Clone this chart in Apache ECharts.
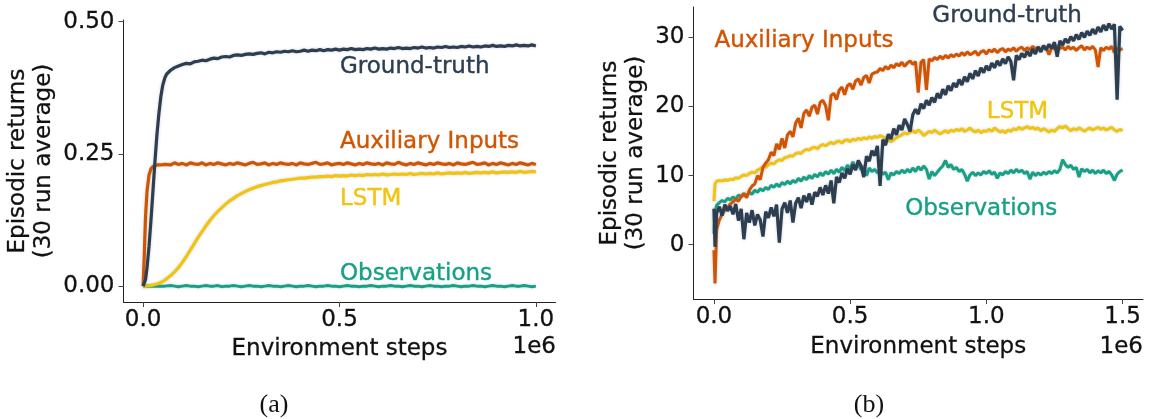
<!DOCTYPE html>
<html>
<head>
<meta charset="utf-8">
<script src="https://cdn.jsdelivr.net/npm/echarts@6/dist/echarts.min.js"></script>
<style>
  html, body { margin: 0; padding: 0; background: #ffffff; }
  #chart { width: 1149px; height: 419px; }
</style>
</head>
<body>
<div id="chart"></div>
<script>
// ---- legend names / colours (shared by both panels) ----
const seriesNames = ['Ground-truth', 'Auxiliary Inputs', 'LSTM', 'Observations'];
const seriesColors = ['#2c3e50', '#d35400', '#f1c40f', '#16a085'];

// ---- panel (a): environment steps (millions) ----
const stepsA = [0, 0.003, 0.006, 0.01, 0.015, 0.02, 0.025, 0.03, 0.035, 0.04, 0.045, 0.05, 0.055, 0.06,
  0.07, 0.08, 0.09, 0.10, 0.11, 0.12, 0.13, 0.14, 0.15, 0.16,
  0.17, 0.18, 0.19, 0.20, 0.21, 0.22, 0.23, 0.24, 0.25, 0.26,
  0.27, 0.28, 0.29, 0.30, 0.31, 0.32, 0.33, 0.34, 0.35, 0.36,
  0.37, 0.38, 0.39, 0.40, 0.41, 0.42, 0.43, 0.44, 0.45, 0.46,
  0.47, 0.48, 0.49, 0.50, 0.51, 0.52, 0.53, 0.54, 0.55, 0.56,
  0.57, 0.58, 0.59, 0.60, 0.61, 0.62, 0.63, 0.64, 0.65, 0.66,
  0.67, 0.68, 0.69, 0.70, 0.71, 0.72, 0.73, 0.74, 0.75, 0.76,
  0.77, 0.78, 0.79, 0.80, 0.81, 0.82, 0.83, 0.84, 0.85, 0.86,
  0.87, 0.88, 0.89, 0.90, 0.91, 0.92, 0.93, 0.94, 0.95, 0.96,
  0.97, 0.98, 0.99, 1.00];

const groundTruthA = [0, 0.003, 0.012, 0.035, 0.075, 0.125, 0.18, 0.235, 0.285, 0.325, 0.358, 0.38, 0.393, 0.401,
  0.408, 0.413, 0.416, 0.419, 0.421, 0.420, 0.424, 0.425, 0.427, 0.426,
  0.429, 0.431, 0.430, 0.433, 0.434, 0.433, 0.436, 0.437, 0.436, 0.438,
  0.439, 0.438, 0.440, 0.441, 0.439, 0.442, 0.441, 0.443, 0.442, 0.444,
  0.443, 0.445, 0.443, 0.444, 0.446, 0.444, 0.446, 0.445, 0.447, 0.445,
  0.447, 0.446, 0.448, 0.446, 0.448, 0.447, 0.449, 0.447, 0.448, 0.447,
  0.449, 0.448, 0.450, 0.448, 0.449, 0.448, 0.450, 0.449, 0.451, 0.449,
  0.450, 0.449, 0.451, 0.450, 0.452, 0.450, 0.451, 0.450, 0.452, 0.451,
  0.453, 0.451, 0.452, 0.451, 0.453, 0.452, 0.454, 0.452, 0.453, 0.452,
  0.454, 0.453, 0.455, 0.453, 0.454, 0.453, 0.455, 0.454, 0.456, 0.454,
  0.455, 0.454, 0.456, 0.454];

const auxiliaryA = [0, 0.06, 0.13, 0.18, 0.21, 0.222, 0.226, 0.228, 0.229, 0.231, 0.229, 0.232, 0.230, 0.231,
  0.229, 0.233, 0.230, 0.232, 0.229, 0.233, 0.231, 0.230, 0.233, 0.229,
  0.232, 0.230, 0.233, 0.231, 0.229, 0.232, 0.230, 0.233, 0.231, 0.229,
  0.232, 0.234, 0.230, 0.231, 0.233, 0.229, 0.232, 0.230, 0.233, 0.231,
  0.230, 0.232, 0.229, 0.233, 0.231, 0.230, 0.232, 0.234, 0.230, 0.231,
  0.233, 0.229, 0.231, 0.232, 0.230, 0.233, 0.231, 0.229, 0.232, 0.230,
  0.233, 0.231, 0.230, 0.232, 0.229, 0.233, 0.231, 0.230, 0.234, 0.231,
  0.229, 0.232, 0.230, 0.233, 0.231, 0.229, 0.232, 0.230, 0.233, 0.231,
  0.230, 0.232, 0.229, 0.233, 0.231, 0.230, 0.232, 0.234, 0.230, 0.231,
  0.233, 0.229, 0.232, 0.230, 0.233, 0.231, 0.229, 0.232, 0.230, 0.233,
  0.231, 0.229, 0.232, 0.230];

const lstmA = [0, 0, 0, 0.001, 0.001, 0.002, 0.002, 0.003, 0.004, 0.005, 0.007, 0.009, 0.011, 0.014,
  0.020, 0.027, 0.035, 0.045, 0.056, 0.068, 0.080, 0.092, 0.103, 0.114,
  0.124, 0.133, 0.141, 0.148, 0.155, 0.161, 0.166, 0.171, 0.175, 0.179,
  0.182, 0.185, 0.188, 0.190, 0.192, 0.194, 0.196, 0.197, 0.199, 0.200,
  0.201, 0.202, 0.203, 0.204, 0.204, 0.205, 0.206, 0.206, 0.207, 0.207,
  0.208, 0.207, 0.209, 0.208, 0.209, 0.208, 0.210, 0.209, 0.210, 0.209,
  0.211, 0.210, 0.211, 0.210, 0.212, 0.210, 0.211, 0.212, 0.211, 0.212,
  0.211, 0.213, 0.211, 0.212, 0.213, 0.212, 0.213, 0.212, 0.214, 0.212,
  0.213, 0.214, 0.213, 0.214, 0.213, 0.215, 0.213, 0.214, 0.215, 0.214,
  0.215, 0.214, 0.216, 0.214, 0.215, 0.216, 0.215, 0.216, 0.215, 0.217,
  0.215, 0.216, 0.217, 0.216];

const observationsA = [0, 0, 0, 0, 0, 0, 0, 0, 0, 0, 0, 0, 0, 0,
  0.001, 0, -0.001, 0, 0.001, 0, 0, -0.001, 0, 0.001,
  0, 0, 0.001, -0.001, 0, 0, 0.001, 0, -0.001, 0,
  0.001, 0, 0, -0.001, 0, 0.001, 0, 0, -0.001, 0,
  0.001, 0, -0.001, 0, 0, 0.001, 0, -0.001, 0, 0,
  0.001, 0, 0, -0.001, 0, 0.001, 0, 0, -0.001, 0,
  0, 0.001, 0, -0.001, 0, 0, 0.001, 0, 0, -0.001,
  0, 0.001, 0, 0, -0.001, 0, 0.001, 0, 0, -0.001,
  0, 0, 0.001, 0, -0.001, 0, 0, 0.001, 0, 0,
  -0.001, 0, 0.001, 0, 0, -0.001, 0, 0.001, 0, 0,
  0.001, 0, -0.001, 0];

// ---- panel (b): environment steps (millions) ----
const stepsB = [0, 0.004, 0.01, 0.02, 0.03, 0.04, 0.05, 0.06, 0.07, 0.08, 0.09,
  0.10, 0.11, 0.12, 0.13, 0.14, 0.15, 0.16, 0.17, 0.18, 0.19,
  0.20, 0.21, 0.22, 0.23, 0.24, 0.25, 0.26, 0.27, 0.28, 0.29,
  0.30, 0.31, 0.32, 0.33, 0.34, 0.35, 0.36, 0.37, 0.38, 0.39,
  0.40, 0.41, 0.42, 0.43, 0.44, 0.45, 0.46, 0.47, 0.48, 0.49,
  0.50, 0.51, 0.52, 0.53, 0.54, 0.55, 0.56, 0.57, 0.58, 0.59,
  0.60, 0.61, 0.62, 0.63, 0.64, 0.65, 0.66, 0.67, 0.68, 0.69,
  0.70, 0.71, 0.72, 0.73, 0.74, 0.75, 0.76, 0.77, 0.78, 0.79,
  0.80, 0.81, 0.82, 0.83, 0.84, 0.85, 0.86, 0.87, 0.88, 0.89,
  0.90, 0.91, 0.92, 0.93, 0.94, 0.95, 0.96, 0.97, 0.98, 0.99,
  1.00, 1.01, 1.02, 1.03, 1.04, 1.05, 1.06, 1.07, 1.08, 1.09,
  1.10, 1.11, 1.12, 1.13, 1.14, 1.15, 1.16, 1.17, 1.18, 1.19,
  1.20, 1.21, 1.22, 1.23, 1.24, 1.25, 1.26, 1.27, 1.28, 1.29,
  1.30, 1.31, 1.32, 1.33, 1.34, 1.35, 1.36, 1.37, 1.38, 1.39,
  1.40, 1.41, 1.42, 1.43, 1.44, 1.45, 1.46, 1.47, 1.48, 1.49,
  1.50];

const groundTruthB = [5.2, -0.3, 4.6, 5.5, 4.2, 5.8, 4.9, 5.6, 4.4, 5.9, 3.5,
  5.2, 0.8, 4.6, 3.2, 5.0, 2.8, 4.4, 3.6, 1.2, 4.8,
  3.9, 5.4, 4.1, 5.8, 0.3, 5.2, 6.1, 4.6, 6.4, 3.2,
  6.0, 6.8, 5.3, 7.1, 6.2, 7.4, 5.8, 7.6, 7.0, 8.3,
  7.2, 8.6, 7.4, 9.3, 6.0, 9.8, 9.0, 10.4, 9.6, 11.0,
  10.2, 11.6, 10.8, 12.2, 11.4, 9.8, 12.8, 12.1, 13.6, 12.9,
  14.3, 8.5, 15.2, 14.4, 16.0, 15.3, 16.8, 15.9, 17.3, 16.6,
  18.2, 17.4, 16.4, 18.8, 19.6, 18.9, 20.4, 19.7, 20.9, 20.2,
  21.3, 20.6, 21.9, 21.2, 22.5, 21.7, 23.0, 22.3, 23.4, 22.8,
  23.9, 23.1, 24.3, 23.6, 24.8, 24.0, 25.2, 24.4, 25.6, 24.9,
  25.9, 25.2, 26.3, 25.6, 26.6, 25.9, 26.9, 26.2, 27.2, 26.5,
  23.8, 27.4, 26.8, 27.7, 27.1, 28.0, 27.3, 28.3, 27.6, 28.6,
  27.9, 28.8, 28.2, 29.0, 28.4, 29.3, 27.2, 29.5, 28.9, 29.8,
  29.2, 30.1, 29.5, 30.4, 29.7, 30.7, 30.0, 30.9, 30.3, 31.2,
  30.5, 31.5, 30.8, 31.8, 31.0, 32.0, 31.2, 31.9, 21.0, 31.6,
  31.0];

const auxiliaryB = [-0.8, -5.6, 2.2, 3.6, 4.4, 5.0, 5.4, 5.9, 6.2, 6.6, 6.3,
  7.0, 7.4, 6.8, 7.9, 8.5, 8.8, 10.0, 9.4, 11.2, 11.8,
  12.3, 13.4, 12.9, 14.6, 13.8, 15.4, 14.0, 15.9, 16.4, 15.6,
  17.6, 18.3, 16.9, 19.0, 19.5, 18.6, 19.9, 20.2, 18.9, 20.6,
  20.9, 20.1, 18.0, 21.6, 21.9, 21.0, 22.4, 22.8, 21.7, 23.0,
  23.3, 22.5, 23.7, 24.0, 23.1, 24.2, 24.5, 23.4, 24.7, 24.9,
  25.0, 25.5, 25.2, 25.8, 25.4, 26.0, 25.6, 26.2, 25.9, 26.4,
  25.8, 26.3, 26.6, 26.1, 26.5, 22.0, 26.4, 26.8, 22.4, 26.9,
  26.6, 27.1, 26.8, 27.3, 26.9, 27.4, 27.0, 27.5, 27.2, 27.6,
  27.3, 27.8, 27.4, 27.9, 27.5, 27.7, 28.0, 27.4, 27.9, 28.1,
  27.6, 28.2, 27.9, 28.3, 27.8, 28.2, 28.4, 27.9, 28.3, 28.1,
  28.5, 28.0, 28.4, 28.6, 28.1, 28.5, 28.2, 28.7, 28.3, 28.6,
  28.2, 28.7, 28.4, 27.5, 28.6, 28.3, 28.8, 28.4, 28.6, 28.2,
  28.7, 28.3, 28.6, 28.1, 28.5, 28.8, 28.2, 28.6, 28.3, 28.7,
  28.2, 25.7, 28.5, 28.1, 28.6, 28.3, 28.7, 27.8, 28.4, 28.2,
  28.4];

const lstmB = [6.3, 8.8, 9.2, 9.3, 9.2, 9.4, 9.3, 9.5, 9.4, 9.7, 9.6,
  9.9, 10.1, 10.0, 10.3, 10.5, 10.4, 10.8, 11.0, 11.3, 11.2,
  11.6, 11.8, 11.7, 12.1, 12.3, 12.2, 12.6, 12.7, 12.9, 12.8,
  13.2, 13.3, 13.2, 13.6, 13.8, 13.7, 14.0, 14.1, 13.9, 14.3,
  14.5, 14.3, 14.6, 14.8, 14.6, 14.9, 15.0, 14.7, 15.1, 15.2,
  14.9, 15.3, 15.1, 15.4, 15.2, 15.5, 15.3, 15.6, 15.4, 15.7,
  15.5, 15.8, 15.6, 15.4, 15.1, 14.9, 15.2, 15.5, 15.7, 15.9,
  16.2, 16.0, 16.3, 16.5, 16.2, 16.6, 16.3, 15.8, 16.1, 16.4,
  16.2, 16.6, 16.3, 16.0, 16.3, 16.5, 16.2, 16.6, 16.4, 16.7,
  16.5, 16.8, 16.4, 16.6, 16.9, 16.5, 16.3, 16.6, 16.2, 16.5,
  16.4, 16.7, 16.4, 16.9, 16.6, 16.3, 16.5, 16.2, 16.6, 16.4,
  16.8, 16.6, 17.0, 16.7, 16.9, 17.1, 16.8, 17.0, 16.7, 16.9,
  16.5, 16.8, 16.6, 16.3, 16.6, 16.4, 16.8, 17.1, 16.9, 17.2,
  16.8, 16.5, 16.8, 16.6, 16.9, 16.7, 16.4, 16.7, 16.9, 16.6,
  16.8, 17.0, 16.7, 16.9, 16.6, 16.8, 17.0, 16.6, 16.4, 16.7,
  16.5];

const observationsB = [1.6, 4.8, 5.7, 6.1, 6.4, 6.2, 6.7, 6.5, 6.9, 6.6, 7.2,
  6.9, 7.4, 7.1, 7.6, 7.3, 7.9, 7.6, 8.1, 7.8, 8.3,
  8.0, 8.6, 8.3, 8.8, 8.4, 9.0, 8.7, 9.2, 8.8, 9.3,
  9.0, 9.6, 9.2, 9.8, 9.4, 10.0, 9.6, 10.2, 9.8, 10.4,
  10.0, 10.6, 10.2, 10.8, 10.3, 10.9, 10.5, 11.2, 10.7, 11.5,
  11.0, 12.0, 11.2, 11.5, 10.9, 11.3, 10.0, 11.1, 10.6, 10.9,
  10.4, 10.8, 10.2, 10.5, 9.4, 10.4, 10.1, 10.6, 10.3, 10.8,
  10.4, 10.9, 10.5, 11.1, 10.6, 11.3, 10.8, 11.4, 10.9, 9.5,
  10.6, 10.0, 10.5, 11.0, 11.4, 12.2, 11.2, 11.6, 10.9, 11.2,
  10.6, 10.9, 10.2, 9.2, 10.1, 10.5, 10.0, 10.4, 10.1, 10.6,
  10.3, 10.7, 10.2, 10.5, 9.6, 10.4, 10.1, 10.6, 10.3, 10.8,
  10.4, 10.9, 10.5, 10.8, 10.3, 10.6, 9.5, 10.5, 10.0, 10.4,
  10.1, 10.5, 10.2, 10.6, 10.3, 10.7, 10.4, 10.9, 12.3, 11.6,
  11.2, 11.5, 10.9, 11.2, 9.8, 11.0, 10.6, 10.9, 10.4, 10.8,
  10.3, 10.7, 10.4, 10.8, 10.3, 10.6, 10.1, 9.3, 10.2, 10.6,
  10.8];

// ---- tick values and in-plot label anchors ----
const ticksXA = [0, 0.5, 1.0];
const ticksYA = [0, 0.25, 0.5];
const ticksXB = [0, 0.5, 1.0, 1.5];
const ticksYB = [0, 10, 20, 30];
const labelXA = [0.5, 0.5, 0.5, 0.5];
const labelYA = [0.415, 0.273, 0.164, 0.0235];
const labelXB = [0.8, 0.0, 1.0, 0.7];
const labelYB = [33.1, 29.5, 19.15, 5.2];

const FONT = 'DejaVu Sans';
const FS = 23;
const TEXT = '#111111';

function pairs(xs, ys) { return xs.map((x, i) => [x, ys[i]]); }

function makeXAxis(gridIndex, min, max, ticks, nameGap) {
  return {
    type: 'value', gridIndex, min, max,
    axisLine: { show: true, onZero: false, lineStyle: { color: '#222', width: 1 } },
    axisTick: { show: true, length: 5, lineStyle: { color: '#444', width: 1 }, customValues: ticks },
    axisLabel: { customValues: ticks, formatter: v => v.toFixed(1), fontFamily: FONT, fontSize: FS, color: TEXT, margin: 7,
      textBorderColor: TEXT, textBorderWidth: 0.3 },
    splitLine: { show: false },
    name: 'Environment steps', nameLocation: 'middle', nameGap,
    nameTextStyle: { fontFamily: FONT, fontSize: FS, color: TEXT, textBorderColor: TEXT, textBorderWidth: 0.3 }
  };
}

function makeYAxis(gridIndex, min, max, ticks, fmt, nameGap) {
  return {
    type: 'value', gridIndex, min, max,
    axisLine: { show: true, onZero: false, lineStyle: { color: '#222', width: 1 } },
    axisTick: { show: true, length: 5, lineStyle: { color: '#444', width: 1 }, customValues: ticks },
    axisLabel: { customValues: ticks, formatter: fmt, fontFamily: FONT, fontSize: FS, color: TEXT, margin: 9,
      textBorderColor: TEXT, textBorderWidth: 0.3 },
    splitLine: { show: false },
    name: 'Episodic returns\n(30 run average)', nameLocation: 'middle', nameRotate: 90, nameGap,
    nameTextStyle: { fontFamily: FONT, fontSize: FS, color: TEXT, lineHeight: 26, align: 'center',
      textBorderColor: TEXT, textBorderWidth: 0.3 }
  };
}

function lineSeries(axisIndex, xs, ys, colorIdx, width) {
  const c = seriesColors[colorIdx];
  return {
    type: 'line', name: seriesNames[colorIdx], xAxisIndex: axisIndex, yAxisIndex: axisIndex,
    data: pairs(xs, ys), showSymbol: false, symbol: 'none', silent: true,
    lineStyle: { color: c, width, shadowBlur: 3, shadowColor: 'rgba(120,130,140,0.35)' },
    itemStyle: { color: c }
  };
}

// In-plot series names, anchored in data coordinates (left edge, vertical middle)
function labelSeries(axisIndex, xs, ys) {
  return {
    type: 'scatter', xAxisIndex: axisIndex, yAxisIndex: axisIndex, silent: true, z: 10,
    symbol: 'circle', symbolSize: 1, itemStyle: { color: 'rgba(0,0,0,0)', opacity: 1 },
    data: seriesNames.map((n, i) => ({
      value: [xs[i], ys[i]], name: n,
      label: { color: seriesColors[i], textBorderColor: seriesColors[i], textBorderWidth: 0.4 }
    })),
    label: { show: true, position: 'right', distance: 0, formatter: p => p.name, fontFamily: FONT, fontSize: FS, opacity: 1 }
  };
}

const chart = echarts.init(document.getElementById('chart'), null, { renderer: 'canvas' });
chart.setOption({
  animation: false,
  backgroundColor: '#ffffff',
  grid: [
    { left: 123.5, top: 20, width: 432, height: 282, outerBoundsMode: 'none' },
    { left: 693.5, top: 7, width: 449.5, height: 292, outerBoundsMode: 'none' }
  ],
  xAxis: [
    makeXAxis(0, -0.05, 1.05, ticksXA, 34),
    makeXAxis(1, -0.075, 1.575, ticksXB, 37)
  ],
  yAxis: [
    makeYAxis(0, -0.03, 0.503, ticksYA, v => v.toFixed(2), 66),
    makeYAxis(1, -7.85, 34.4, ticksYB, v => String(v), 44)
  ],
  series: [
    lineSeries(0, stepsA, observationsA, 3, 3),
    lineSeries(0, stepsA, lstmA, 2, 3.2),
    lineSeries(0, stepsA, auxiliaryA, 1, 3.2),
    lineSeries(0, stepsA, groundTruthA, 0, 3.2),
    labelSeries(0, labelXA, labelYA),
    lineSeries(1, stepsB, observationsB, 3, 3),
    lineSeries(1, stepsB, lstmB, 2, 3),
    lineSeries(1, stepsB, auxiliaryB, 1, 3),
    lineSeries(1, stepsB, groundTruthB, 0, 3.2),
    labelSeries(1, labelXB, labelYB)
  ],
  graphic: [
    { type: 'text', x: 556, y: 347, style: { text: '1e6', fontFamily: FONT, fontSize: FS, fill: TEXT, stroke: TEXT, lineWidth: 0.3, align: 'right', verticalAlign: 'middle' } },
    { type: 'text', x: 1143, y: 347, style: { text: '1e6', fontFamily: FONT, fontSize: FS, fill: TEXT, stroke: TEXT, lineWidth: 0.3, align: 'right', verticalAlign: 'middle' } },
    { type: 'text', x: 274, y: 405, style: { text: '(a)', fontFamily: 'Liberation Serif', fontSize: 26, fill: TEXT, align: 'center', verticalAlign: 'middle' } },
    { type: 'text', x: 869, y: 405, style: { text: '(b)', fontFamily: 'Liberation Serif', fontSize: 26, fill: TEXT, align: 'center', verticalAlign: 'middle' } }
  ]
});
</script>
</body>
</html>
